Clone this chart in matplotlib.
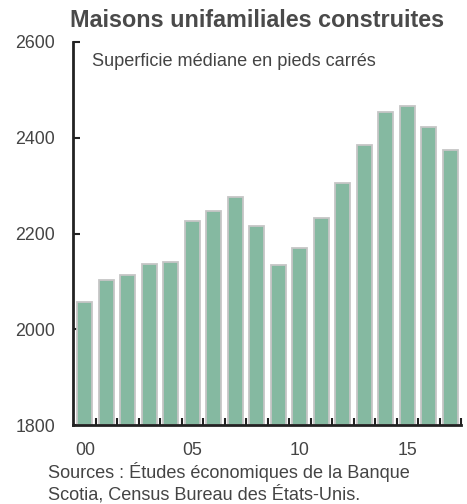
import matplotlib
matplotlib.use("Agg")
import matplotlib.pyplot as plt
import numpy as np

years = list(range(2000, 2018))
values = [2057, 2103, 2114, 2137, 2140, 2227, 2248, 2277, 2215, 2135,
          2169, 2233, 2306, 2384, 2453, 2467, 2422, 2374]
xtick_labels = ["00", "05", "10", "15"]
yticks = [1800, 2000, 2200, 2400, 2600]

plt.rcParams['font.family'] = ['Liberation Sans', 'DejaVu Sans']

fig = plt.figure(figsize=(4.67, 5.04), dpi=100)
ax = fig.add_axes([73/467, 1-425/504, (461-73)/467, (425-42)/504])

x = np.arange(len(values))
ax.bar(x, [v - 1800 for v in values], bottom=1800, width=0.7,
       color='#85B9A1', edgecolor='#C6C6C6', linewidth=1.3, zorder=2)

ax.set_ylim(1800, 2600)
ax.set_xlim(-0.55, 17.5)
ax.set_yticks(yticks)
ax.set_yticklabels([str(t) for t in yticks])
ax.set_xticks([0, 5, 10, 15])
ax.set_xticklabels(xtick_labels)
ax.set_xticks(np.arange(0.5, 18, 1), minor=True)

ax.tick_params(axis='y', direction='in', length=5, width=1.5, pad=13,
               labelsize=12.8, labelcolor='#444444', color='#222222')
ax.tick_params(axis='x', which='major', length=0, pad=12,
               labelsize=12.8, labelcolor='#444444')
ax.tick_params(axis='x', which='minor', direction='in', length=5, width=1.5,
               color='#222222')

for s in ['top', 'right']:
    ax.spines[s].set_visible(False)
for s in ['left', 'bottom']:
    ax.spines[s].set_linewidth(2)
    ax.spines[s].set_color('#222222')

fig.text(257/467, 1-20.5/504, "Maisons unifamiliales construites",
         ha='center', va='center', fontsize=16.8, fontweight='bold', color='#4a4a4a')
fig.text(91.5/467, 1-61/504, "Superficie médiane en pieds carrés",
         ha='left', va='center', fontsize=13.1, color='#444444')
fig.text(47.5/467, 1-472/504, "Sources : Études économiques de la Banque",
         ha='left', va='center', fontsize=13.1, color='#444444')
fig.text(47.5/467, 1-494.5/504, "Scotia, Census Bureau des États-Unis.",
         ha='left', va='center', fontsize=13.1, color='#444444')

fig.savefig("out.png", dpi=100)
